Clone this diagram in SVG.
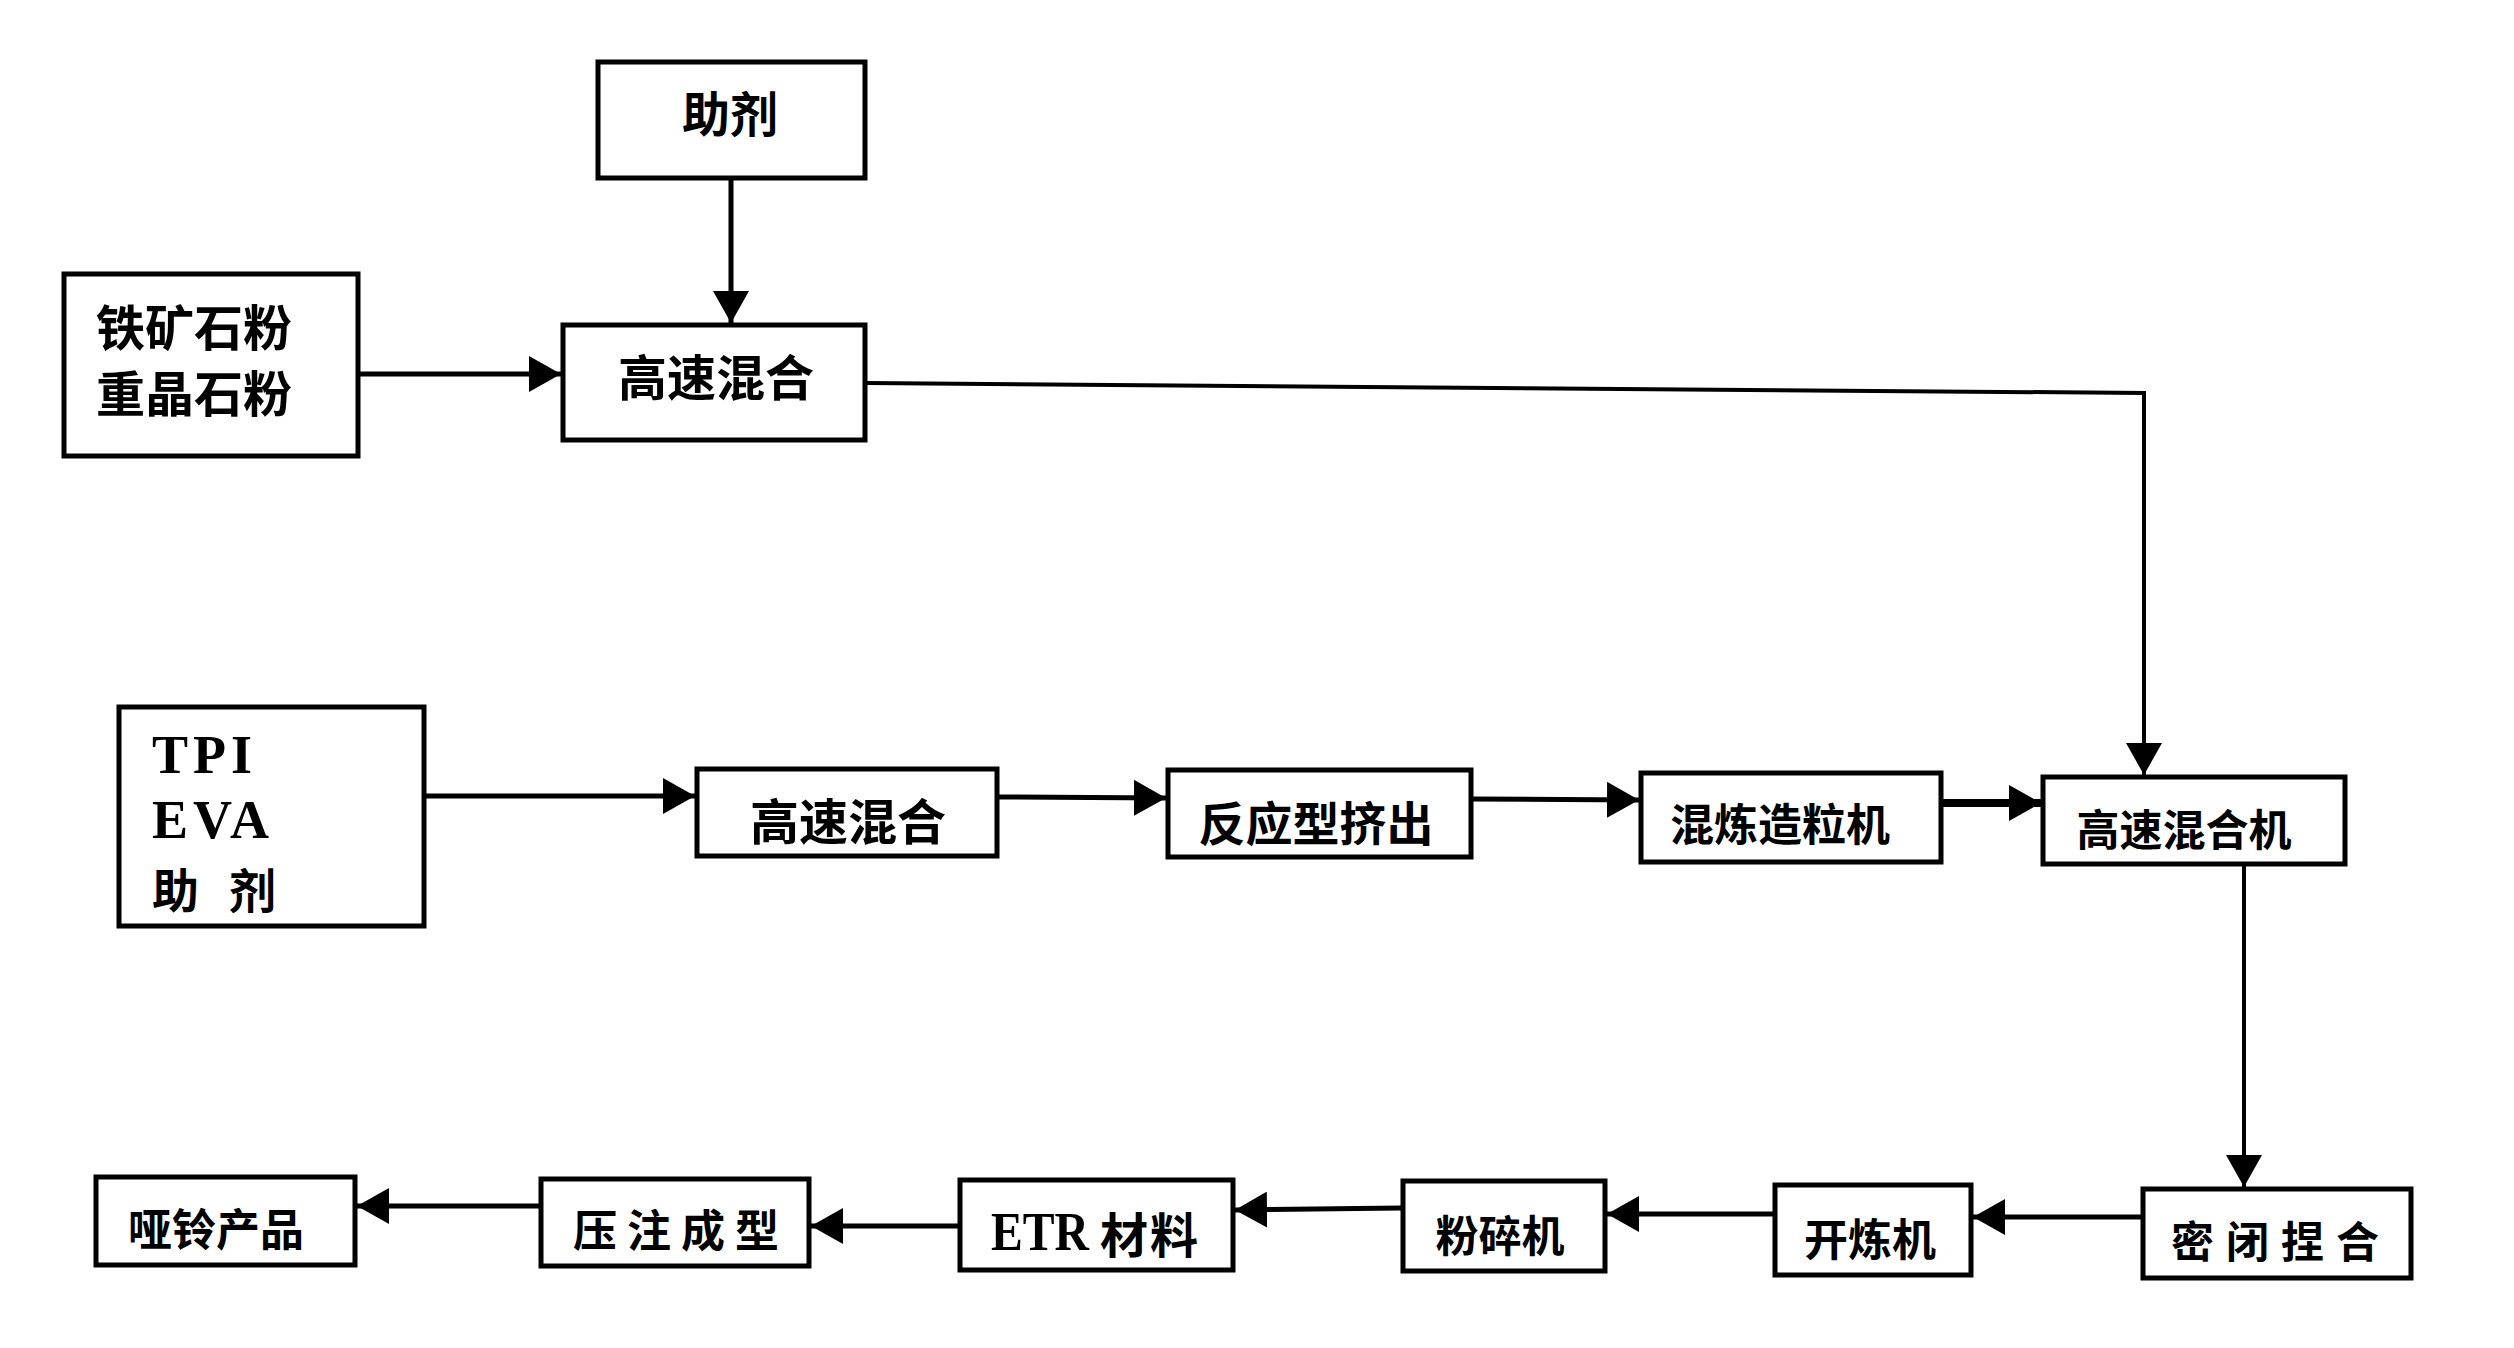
<svg xmlns="http://www.w3.org/2000/svg" width="2514" height="1348" viewBox="0 0 2514 1348">
<style>
.box{fill:#fff;stroke:#000;stroke-width:5}
.t{font-family:"Noto Sans CJK SC","Noto Sans",sans-serif;font-weight:700;fill:#000;dominant-baseline:central}
.c{text-anchor:middle}
.s{font-family:"Liberation Serif","Noto Sans CJK SC",serif;font-weight:700;fill:#000}
.ln{fill:none;stroke:#000;stroke-width:5;marker-end:url(#ah)}
</style>
<defs>
<marker id="ah" markerUnits="userSpaceOnUse" markerWidth="34" markerHeight="36" refX="32" refY="18" orient="auto" viewBox="0 0 34 36">
<path d="M0,0 L32,18 L0,36 z" fill="#000"/>
</marker>
</defs>
<rect width="2514" height="1348" fill="#fff"/>
<g id="connectors">
<path class="ln" d="M731,180 L731,323"/>
<path class="ln" d="M360,374 L561,374"/>
<path class="ln" style="stroke-width:4" d="M867,383 L2144,393 L2144,775"/>
<path class="ln" d="M426,796 L695,796"/>
<path class="ln" d="M999,797 L1166,798"/>
<path class="ln" d="M1473,799 L1639,800"/>
<path class="ln" style="stroke-width:8" d="M1943,803 L2041,803"/>
<path class="ln" style="stroke-width:4" d="M2244,866 L2244,1187"/>
<path class="ln" d="M2141,1217 L1973,1217"/>
<path class="ln" d="M1773,1214 L1607,1214"/>
<path class="ln" d="M1401,1208 L1235,1210"/>
<path class="ln" d="M958,1226 L811,1226"/>
<path class="ln" d="M539,1206 L357,1206"/>
</g>
<g id="n-zhuji">
<rect class="box" x="598" y="62" width="267" height="116"/>
<text class="t c" x="730" y="111" font-size="48">助剂</text>
</g>
<g id="n-ore">
<rect class="box" x="64" y="274" width="294" height="182"/>
<text class="t" x="96" y="324" font-size="49">铁矿石粉</text>
<text class="t" x="96" y="390" font-size="49">重晶石粉</text>
</g>
<g id="n-mix1">
<rect class="box" x="563" y="325" width="302" height="115"/>
<text class="t c" x="716" y="374" font-size="49">高速混合</text>
</g>
<g id="n-tpi">
<rect class="box" x="119" y="707" width="305" height="219"/>
<text class="s" x="152" y="773" font-size="54" letter-spacing="5">TPI</text>
<text class="s" x="152" y="838" font-size="54" letter-spacing="5">EVA</text>
<text class="t" x="152" y="887" font-size="47" letter-spacing="30">助剂</text>
</g>
<g id="n-mix2">
<rect class="box" x="697" y="769" width="300" height="87"/>
<text class="t c" x="848" y="818" font-size="49">高速混合</text>
</g>
<g id="n-extrude">
<rect class="box" x="1168" y="770" width="303" height="87"/>
<text class="t c" x="1316" y="820" font-size="47">反应型挤出</text>
</g>
<g id="n-pellet">
<rect class="box" x="1641" y="773" width="300" height="89"/>
<text class="t c" x="1780" y="822" font-size="44">混炼造粒机</text>
</g>
<g id="n-mixer">
<rect class="box" x="2043" y="777" width="302" height="87"/>
<text class="t c" x="2184" y="827" font-size="43">高速混合机</text>
</g>
<g id="n-knead">
<rect class="box" x="2143" y="1189" width="268" height="89"/>
<text class="t c" x="2281" y="1239" font-size="43" letter-spacing="12">密闭捏合</text>
</g>
<g id="n-mill">
<rect class="box" x="1775" y="1185" width="196" height="90"/>
<text class="t c" x="1870" y="1237" font-size="44">开炼机</text>
</g>
<g id="n-crush">
<rect class="box" x="1403" y="1181" width="202" height="90"/>
<text class="t c" x="1500" y="1233" font-size="43">粉碎机</text>
</g>
<g id="n-etr">
<rect class="box" x="960" y="1180" width="273" height="90"/>
<text class="s" x="991" y="1250" font-size="54" textLength="98" lengthAdjust="spacingAndGlyphs">ETR</text>
<text class="t" x="1100" y="1232" font-size="48" letter-spacing="2">材料</text>
</g>
<g id="n-press">
<rect class="box" x="541" y="1179" width="268" height="87"/>
<text class="t c" x="681" y="1228" font-size="44" letter-spacing="10">压注成型</text>
</g>
<g id="n-product">
<rect class="box" x="96" y="1177" width="259" height="88"/>
<text class="t c" x="216" y="1227" font-size="44">哑铃产品</text>
</g>
</svg>
